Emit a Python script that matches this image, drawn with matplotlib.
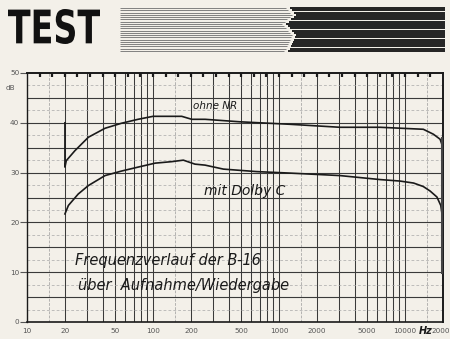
import numpy as np
import matplotlib
matplotlib.use("Agg")
import matplotlib.pyplot as plt
from matplotlib.textpath import TextPath
from matplotlib.patches import PathPatch
from matplotlib.font_manager import FontProperties
from matplotlib.transforms import Affine2D

# ---------------- data ----------------
freq_ohne = [20, 20, 20.5, 24, 30.7, 41.6, 56, 76, 100, 169, 203, 259, 490, 1223,
             3050, 6340, 13960, 16800, 18970, 19700, 19800]
db_ohne = [40, 31.1, 32.4, 34.4, 37.1, 38.9, 39.9, 40.7, 41.3, 41.3, 40.7, 40.7, 40.2,
           39.7, 39.1, 39.1, 38.7, 37.7, 36.7, 35.5, 10]

freq_dolby = [20, 21.3, 25.5, 30.7, 41.6, 56, 76, 104, 141, 174, 215, 259, 362, 665,
              1223, 3050, 6340, 9130, 11700, 13960, 15800, 17900, 19200, 19700, 19800]
db_dolby = [21.7, 23.4, 25.7, 27.4, 29.4, 30.3, 31.1, 31.9, 32.2, 32.5, 31.7, 31.5,
            30.7, 30.2, 29.9, 29.4, 28.6, 28.3, 27.9, 27.2, 26.3, 25.1, 23.4, 21.5, 10]

x_ticks = [10, 20, 50, 100, 200, 500, 1000, 2000, 5000, 10000, 20000]
x_ticklabels = ["10", "20", "50", "100", "200", "500", "1000", "2000", "5000", "10000", "20000"]
y_ticks = [0, 10, 20, 30, 40, 50]

bg = "#f3f0e9"
ink = "#1a1a1a"
grid_c = "#3a3a3a"

fig = plt.figure(figsize=(4.5, 3.39), dpi=100, facecolor=bg)

# ---------------- chart ----------------
ax = fig.add_axes([27/450, 1-322/339, (443-27)/450, (322-73)/339])
ax.set_facecolor(bg)
ax.set_xscale("log")
ax.set_xlim(10, 20000)
ax.set_ylim(0, 50)

# vertical grid
for dec in [10, 100, 1000, 10000]:
    for m in range(1, 10):
        f = dec * m
        if 10 < f < 20000:
            ax.axvline(f, color=grid_c, lw=0.75, zorder=1)
    for m in [1.5]:
        ax.axvline(dec*m, color="#9a9a9a", lw=0.5, ls=(0, (4, 2)), zorder=1)
# horizontal grid
for y in range(5, 50, 5):
    ax.axhline(y, color=grid_c, lw=0.8, zorder=1)
for y in np.arange(2.5, 50, 5):
    ax.axhline(y, color="#a8a8a8", lw=0.5, ls=(0, (4, 3)), zorder=1)

# top marks every 1/10 decade
marks = 10 ** np.arange(1.1, 4.3, 0.1)
ax.vlines(marks, 49.2, 50, color=ink, lw=1.6, zorder=3)

ax.plot(freq_ohne, db_ohne, color=ink, lw=1.2, zorder=4)
ax.plot(freq_dolby, db_dolby, color=ink, lw=1.2, zorder=4)
ax.plot([19750, 19750], [37, 10], color="#444", lw=2.2, zorder=4)

for s in ax.spines.values():
    s.set_color(ink)
ax.spines["top"].set_linewidth(1.4)
ax.spines["right"].set_linewidth(1.4)
ax.spines["left"].set_linewidth(1.0)
ax.spines["bottom"].set_linewidth(1.2)

ax.set_xticks(x_ticks)
ax.set_xticklabels(x_ticklabels)
ax.xaxis.set_minor_locator(matplotlib.ticker.NullLocator())
ax.set_yticks(y_ticks)
ax.tick_params(axis="x", length=0, pad=4, labelsize=5.2, labelcolor="#555")
ax.tick_params(axis="y", length=5, width=0.8, pad=0.5, labelsize=5.2, labelcolor="#555", color="#555")
ax.text(-0.04, 0.94, "dB", transform=ax.transAxes, ha="center", va="center", fontsize=5.2, color="#555")
ax.text(14600, -1.9, "Hz", ha="center", va="center", fontsize=7, fontweight="bold",
        fontstyle="italic", color=ink, clip_on=False)

hand = dict(fontstyle="italic", color=ink, family="DejaVu Sans", zorder=5)
ax.text(310, 43.3, "ohne NR", ha="center", va="center", fontsize=7.5, **hand)
ax.text(537, 26.4, "mit Dolby C", ha="center", va="center", fontsize=10, **hand)
ax.text(24, 12.4, "Frequenzverlauf der B-16", ha="left", va="center", fontsize=10.5, **hand)
ax.text(25.5, 7.4, "über  Aufnahme/Wiedergabe", ha="left", va="center", fontsize=10.5, **hand)

# ---------------- header ----------------
ov = fig.add_axes([0, 0, 1, 1], facecolor="none")
ov.set_xlim(0, 450)
ov.set_ylim(339, 0)
ov.axis("off")

fp = FontProperties(family="DejaVu Sans", weight="bold")
tp = TextPath((0, 0), "TEST", size=100, prop=fp)
bb = tp.get_extents()
sx = (100 - 8) / bb.width
sy = (44 - 9) / bb.height
tr = Affine2D().translate(-bb.x0, -bb.y0).scale(sx, -sy).translate(8, 44)
ov.add_patch(PathPatch(tr.transform_path(tp), color="#111", lw=0))

zig_y = [7, 15, 24, 35, 52]
zig_x = [286, 293, 283, 293, 285]
ys = np.linspace(8, 51, 20)
for y in ys:
    b = np.interp(y, zig_y, zig_x)
    ov.plot([120, b - 1], [y, y], color="#6e6e6e", lw=0.6, solid_capstyle="butt")
    ov.plot([b + 3, 445], [y, y], color="#111", lw=1.3, solid_capstyle="butt")

fig.savefig("out.png", dpi=100, facecolor=bg)
